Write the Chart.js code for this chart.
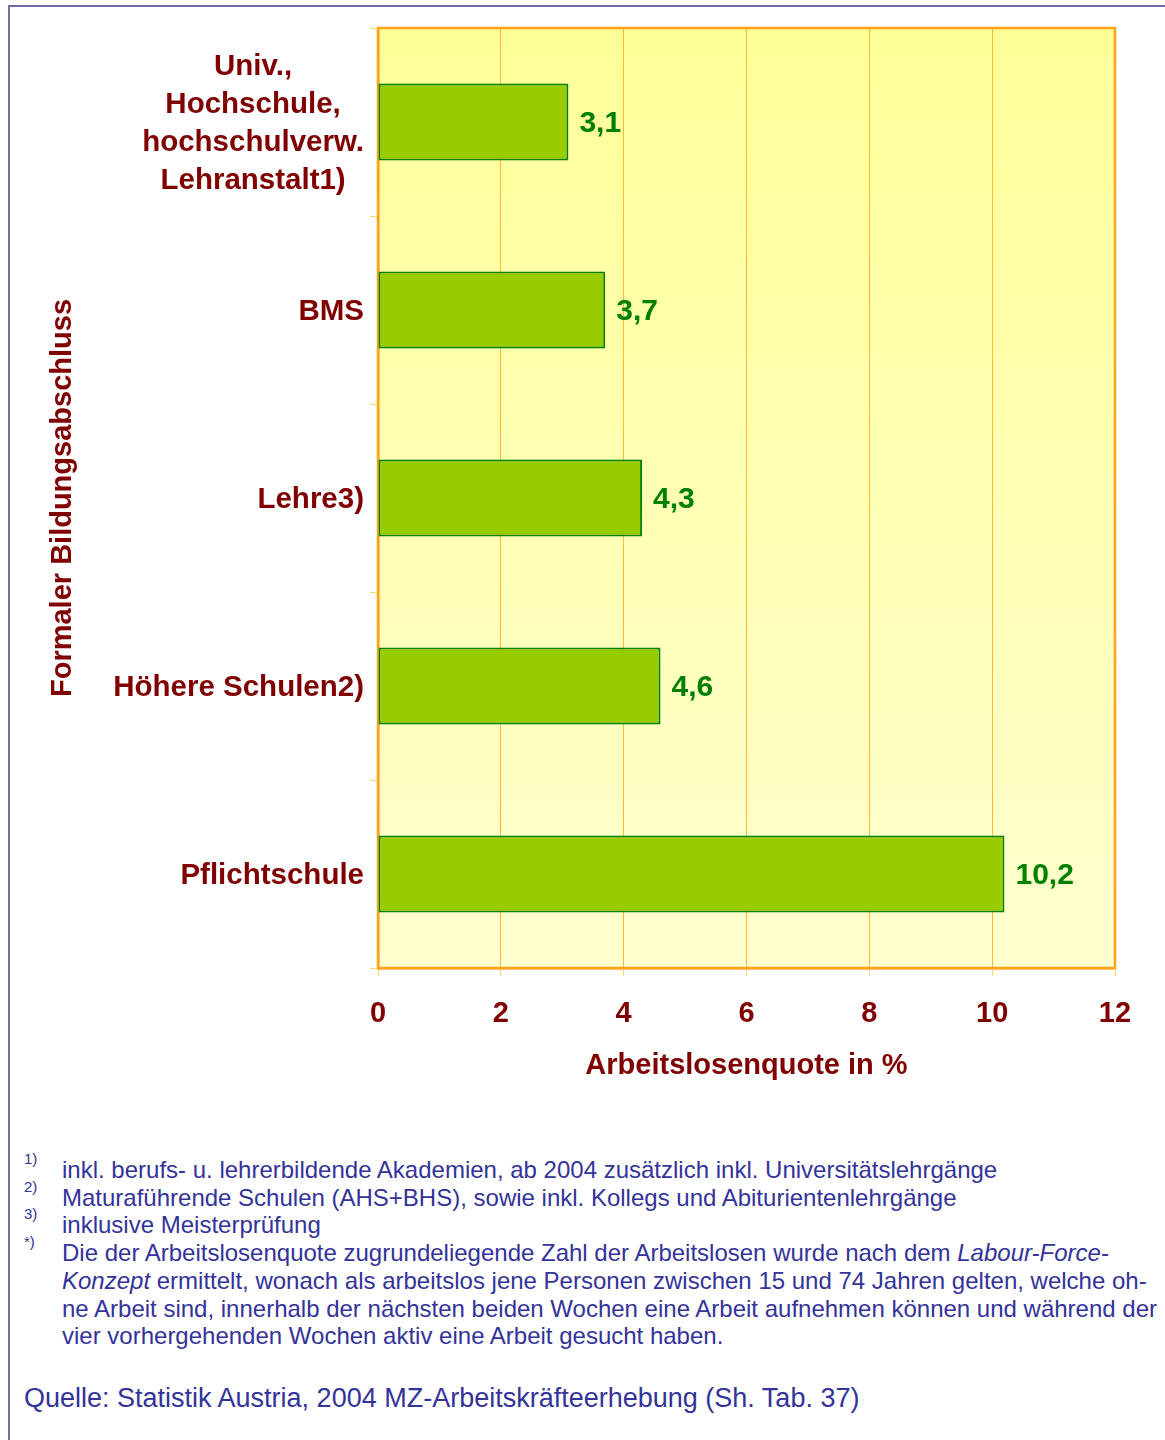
<!DOCTYPE html>
<html lang="de">
<head>
<meta charset="utf-8">
<title>Arbeitslosenquote nach Bildungsabschluss</title>
<script src="https://cdn.jsdelivr.net/npm/chart.js@4.4.1/dist/chart.umd.min.js"></script>
<style>
  body { margin: 0; background: #fff; font-family: "Liberation Sans", Arial, sans-serif; }
  #frame {
    position: absolute; left: 8px; top: 5px; width: 1300px; height: 1500px;
    border-left: 2px solid #6E6EA8; border-top: 2px solid #6E6EA8;
  }
  #chartBox { position: absolute; left: 0; top: 0; width: 1165px; height: 1100px; }
  #notes { position: absolute; left: 0; top: 1156px; color: #333399; font-size: 24px; line-height: 27.7px; white-space: nowrap; }
  .note { position: relative; padding-left: 62px; }
  .note sup { position: absolute; left: 24px; top: -5px; font-size: 15px; line-height: 15px; }
  #source { position: absolute; left: 24px; top: 1382px; color: #333399; font-size: 27px; line-height: 32px; white-space: nowrap; }
</style>
</head>
<body>
<div id="frame"></div>
<div id="chartBox"><canvas id="quoteChart"></canvas></div>

<div id="notes">
  <div class="note"><sup>1)</sup>inkl. berufs- u. lehrerbildende Akademien, ab 2004 zusätzlich inkl. Universitätslehrgänge</div>
  <div class="note"><sup>2)</sup>Maturaführende Schulen (AHS+BHS), sowie inkl. Kollegs und Abiturientenlehrgänge</div>
  <div class="note"><sup>3)</sup>inklusive Meisterprüfung</div>
  <div class="note"><sup>*)</sup>Die der Arbeitslosenquote zugrundeliegende Zahl der Arbeitslosen wurde nach dem <i>Labour-Force-</i><br><i>Konzept</i> ermittelt, wonach als arbeitslos jene Personen zwischen 15 und 74 Jahren gelten, welche oh-<br>ne Arbeit sind, innerhalb der nächsten beiden Wochen eine Arbeit aufnehmen können und während der<br>vier vorhergehenden Wochen aktiv eine Arbeit gesucht haben.</div>
</div>
<div id="source">Quelle: Statistik Austria, 2004 MZ-Arbeitskräfteerhebung (Sh. Tab. 37)</div>

<script>
const categories = [
    ['Univ.,', 'Hochschule,', 'hochschulverw.', 'Lehranstalt1)'],
    'BMS',
    'Lehre3)',
    'Höhere Schulen2)',
    'Pflichtschule'
];
const quoten = [3.1, 3.7, 4.3, 4.6, 10.2];
const xMin = 0;
const xMax = 12;
const xStep = 2;

const darkRed = '#800000';
const green = '#008000';
const labelFont = '"Liberation Sans", Arial, sans-serif';

// yellow gradient + orange frame of the plot area
const plotArea = {
    id: 'plotArea',
    beforeDraw(chart) {
        const { ctx, chartArea: a } = chart;
        const g = ctx.createLinearGradient(0, a.top, 0, a.bottom);
        g.addColorStop(0, '#FFFF99');
        g.addColorStop(1, '#FFFFCF');
        ctx.save();
        ctx.fillStyle = g;
        ctx.fillRect(a.left, a.top, a.right - a.left, a.bottom - a.top);
        ctx.restore();
    },
    beforeDatasetsDraw(chart) {
        const { ctx, chartArea: a } = chart;
        ctx.save();
        ctx.strokeStyle = '#FFA31A';
        ctx.lineWidth = 2.5;
        ctx.strokeRect(a.left, a.top, a.right - a.left, a.bottom - a.top);
        ctx.restore();
    }
};

// category labels (multi-line ones centered as a block) and value labels
const textLabels = {
    id: 'textLabels',
    afterDraw(chart) {
        const { ctx } = chart;
        const yScale = chart.scales.y;
        const bars = chart.getDatasetMeta(0).data;
        ctx.save();
        ctx.textBaseline = 'middle';

        ctx.font = 'bold 29.5px ' + labelFont;
        ctx.fillStyle = darkRed;
        ctx.textAlign = 'center';
        const lineH = 38;
        categories.forEach((lab, i) => {
            const lines = Array.isArray(lab) ? lab : [lab];
            const w = Math.max(...lines.map(l => ctx.measureText(l).width));
            const cx = yScale.left + yScale.width - 14 - w / 2;
            const cy = yScale.getPixelForValue(i) + 2;
            lines.forEach((l, j) => {
                ctx.fillText(l, cx, cy + (j - (lines.length - 1) / 2) * lineH);
            });
        });

        ctx.font = 'bold 30px ' + labelFont;
        ctx.fillStyle = green;
        ctx.textAlign = 'left';
        bars.forEach((bar, i) => {
            const txt = quoten[i].toLocaleString('de-DE', { minimumFractionDigits: 1 });
            ctx.fillText(txt, bar.x + 11, bar.y + 1.5);
        });
        ctx.restore();
    }
};

const ctx = document.getElementById('quoteChart').getContext('2d');
const quoteChart = new Chart(ctx, {
    type: 'bar',
    data: {
        labels: categories,
        datasets: [{
            data: quoten,
            backgroundColor: '#99CC00',
            borderColor: green,
            borderWidth: 2,
            borderSkipped: false,
            barPercentage: 0.41,
            categoryPercentage: 1
        }]
    },
    options: {
        indexAxis: 'y',
        responsive: true,
        maintainAspectRatio: false,
        animation: false,
        layout: {
            padding: { top: 28, right: 50, bottom: 12, left: 0 }
        },
        plugins: {
            legend: { display: false },
            tooltip: { enabled: false }
        },
        scales: {
            x: {
                min: xMin,
                max: xMax,
                ticks: {
                    stepSize: xStep,
                    color: darkRed,
                    font: { family: labelFont, size: 29, weight: 'bold' },
                    padding: 21
                },
                grid: {
                    color: '#FFB733',
                    lineWidth: 1,
                    tickLength: 8,
                    tickColor: '#FFD966'
                },
                border: { color: '#FFA31A', width: 2.5 },
                title: {
                    display: true,
                    text: 'Arbeitslosenquote in %',
                    color: darkRed,
                    font: { family: labelFont, size: 29, weight: 'bold' },
                    padding: { top: 5, bottom: 5 }
                },
                afterFit(scale) { scale.height = 120; }
            },
            y: {
                ticks: { display: false },
                grid: {
                    drawOnChartArea: false,
                    tickLength: 8,
                    tickColor: '#FFD966'
                },
                border: { color: '#FFA31A', width: 2.5 },
                title: {
                    display: true,
                    text: 'Formaler Bildungsabschluss',
                    color: darkRed,
                    font: { family: labelFont, size: 29, weight: 'bold' },
                    padding: { top: 46, bottom: 0 }
                },
                afterFit(scale) { scale.width = 378; }
            }
        }
    },
    plugins: [plotArea, textLabels]
});
</script>
</body>
</html>
